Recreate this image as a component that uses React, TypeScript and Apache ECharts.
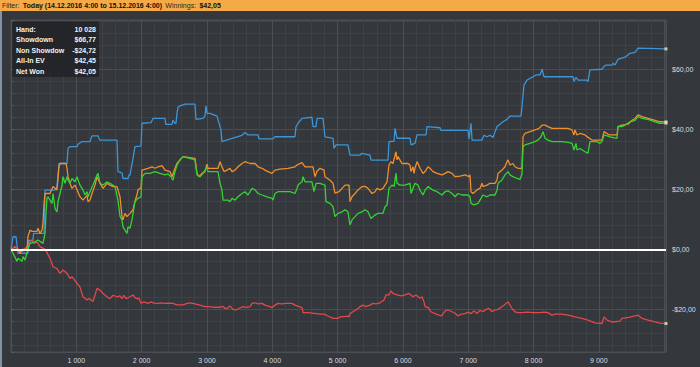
import React, { useEffect, useRef } from "react";
import * as echarts from "echarts";

const HAND_COUNT = 10028;
const Y_MIN = -34.2;
const Y_MAX = 76.4;

// [hand, dollars]
const showdown: [number, number][] = [
  [0, 0], [31, 4.2], [77, 4.2], [107, -1.3], [260, -1.3], [270, 3], [337, 3], [345, 5.3], [505, 5.3], [521, 19.7],
  [674, 19.7], [704, 20.9], [735, 28.6], [857, 28.6], [873, 33.7], [903, 34.2], [1010, 34.2], [1026, 35], [1087, 35.9],
  [1209, 35.9], [1240, 37.8], [1332, 37.8], [1347, 37], [1363, 36.4], [1623, 36.4], [1638, 25.9], [1699, 25.5],
  [1715, 23.6], [1791, 23.6], [1806, 24.7], [1822, 24.7], [1868, 30.3], [1898, 34.2], [1990, 34.4], [2006, 42],
  [2143, 42.2], [2174, 43.6], [2358, 43.6], [2370, 41.6], [2465, 41.6], [2480, 43], [2511, 42], [2526, 42],
  [2541, 45.3], [2557, 47.3], [2587, 47.8], [2664, 48.4], [2817, 48.4], [2832, 43.3], [2940, 43.6], [2970, 44.5],
  [2985, 47.8], [3001, 45.3], [3047, 45.3], [3154, 44.4], [3215, 39.8], [3230, 35.9], [3276, 36.2], [3384, 37],
  [3537, 38], [3583, 38.9], [3629, 38.1], [3782, 38.1], [3797, 36.8], [4011, 36.8], [4042, 37.5], [4348, 37.5],
  [4363, 40.9], [4394, 42], [4455, 43.6], [4608, 44], [4624, 40.9], [4670, 40.9], [4685, 43.6], [4777, 43.6],
  [4807, 37.5], [4930, 37], [4945, 33.6], [4976, 34.8], [5159, 34.8], [5190, 31.4], [5343, 31.4], [5374, 32],
  [5496, 31.4], [5512, 29.7], [5772, 29.7], [5787, 35.9], [5864, 36], [5879, 40.3], [5910, 37], [6109, 37],
  [6124, 34.8], [6185, 35.3], [6216, 38.1], [6354, 38.1], [6369, 40.9], [6568, 40.5], [6584, 39.6], [6997, 39.6],
  [7012, 36.8], [7043, 42], [7058, 36.4], [7211, 36.4], [7241, 38], [7288, 37.5], [7333, 38], [7380, 37.3],
  [7441, 40.9], [7487, 41.7], [7533, 42.5], [7594, 43.3], [7640, 44.4], [7808, 44.4], [7823, 47.5], [7854, 54.8],
  [7900, 56.4], [7977, 57.3], [8038, 58.1], [8099, 58.1], [8130, 60], [8160, 57.5], [8604, 57.5], [8620, 55.9],
  [8650, 57.3], [8681, 56.4], [8818, 56.4], [8834, 55.9], [8864, 59.8], [9048, 60], [9079, 60.9], [9110, 61.4],
  [9201, 61.4], [9216, 62], [9247, 61.4], [9293, 63.3], [9400, 64], [9477, 65.3], [9554, 65.6], [9599, 67],
  [10028, 66.77],
];

const allInEV: [number, number][] = [
  [0, 0], [61, 0], [107, 0], [138, -1.3], [168, 0], [245, 0], [260, 4.2], [291, 6.4], [322, 6], [398, 6], [414, 7],
  [444, 5.3], [475, 6.4], [490, 9], [505, 15], [521, 18.6], [597, 18.6], [643, 20.9], [704, 19.8], [735, 27.5],
  [750, 28.6], [842, 28.6], [857, 27], [873, 24.2], [903, 22], [934, 20.3], [980, 21.4], [1056, 17.5], [1102, 16.4],
  [1164, 18], [1179, 15.9], [1209, 16.4], [1240, 18.6], [1286, 21.4], [1317, 24.2], [1363, 22], [1409, 20.3],
  [1470, 22], [1516, 21.4], [1562, 20.9], [1623, 20.9], [1638, 19.8], [1669, 17.5], [1699, 10.9], [1715, 9.8],
  [1745, 12], [1776, 10.9], [1822, 12], [1868, 13.2], [1898, 16], [1929, 18.1], [1944, 19.8], [1990, 20.5],
  [2006, 26.4], [2097, 27], [2159, 27.5], [2205, 27], [2251, 27.5], [2312, 27.9], [2358, 26.4], [2434, 25.9],
  [2465, 24.2], [2511, 27], [2541, 28.6], [2587, 29.8], [2633, 30.9], [2817, 30.3], [2848, 25.3], [2878, 24.2],
  [2924, 25.3], [2970, 25.9], [3001, 28.4], [3016, 27], [3169, 27], [3200, 29.2], [3230, 27.5], [3261, 25.9],
  [3307, 26.4], [3353, 27], [3384, 25.9], [3429, 26.4], [3476, 27.5], [3537, 28.6], [3583, 29.2], [3659, 28.6],
  [3736, 28.6], [3782, 27.5], [3843, 27], [3889, 26.4], [3935, 25.9], [3996, 25.3], [4042, 26.4], [4118, 26.7],
  [4241, 27], [4348, 27.5], [4379, 28.1], [4455, 28.9], [4501, 27.5], [4624, 27.5], [4654, 24.2], [4685, 26],
  [4731, 27], [4792, 26.4], [4807, 24.2], [4884, 23], [4930, 22], [4960, 18.7], [5022, 19.2], [5068, 20.3],
  [5114, 21.4], [5175, 21.4], [5190, 15.9], [5221, 17.5], [5267, 18.6], [5313, 19.8], [5374, 20.9], [5420, 21],
  [5466, 20.3], [5527, 18.6], [5573, 19.2], [5604, 20.3], [5650, 19.8], [5695, 20.3], [5726, 21.4], [5757, 22.5],
  [5787, 28.1], [5818, 29.2], [5848, 28.6], [5894, 32.5], [5910, 29.8], [5925, 30.9], [5986, 28.6], [6078, 28.6],
  [6109, 28], [6124, 25.9], [6155, 27.5], [6170, 25.3], [6185, 27], [6216, 29.2], [6231, 28.6], [6262, 27],
  [6308, 25.3], [6339, 25.9], [6384, 27.5], [6415, 27], [6461, 25.9], [6522, 25.3], [6599, 24.8], [6645, 25.3],
  [6691, 25.9], [6752, 25.3], [6798, 24.2], [6875, 24.4], [6951, 24.8], [7012, 24.2], [7027, 24.8], [7043, 19.2],
  [7073, 18.6], [7134, 19.8], [7180, 20.3], [7211, 22], [7226, 20.9], [7288, 21.4], [7333, 22], [7410, 22],
  [7441, 23.1], [7456, 25.3], [7517, 26.4], [7563, 27.5], [7594, 29.2], [7609, 29.8], [7640, 28.1], [7686, 28.6],
  [7716, 27.5], [7762, 27], [7823, 27], [7839, 37.5], [7869, 38.6], [7946, 39.2], [8022, 39.8], [8068, 40.1],
  [8099, 40.6], [8130, 41.4], [8176, 41.4], [8221, 40.9], [8283, 40.3], [8528, 40.3], [8589, 39.8], [8620, 38.1],
  [8635, 39.8], [8665, 38.1], [8711, 38.6], [8788, 38.1], [8834, 37.3], [8895, 36.4], [9048, 36.4], [9079, 39.2],
  [9125, 38.6], [9155, 38.1], [9278, 38.1], [9293, 40.9], [9354, 41.4], [9446, 41.7], [9507, 43], [9554, 43.6],
  [9599, 44.8], [9661, 44.2], [9753, 43.6], [9860, 43], [9936, 42.5], [10028, 42.45],
];

const netWon: [number, number][] = [
  [0, 0], [31, -1.3], [92, -4], [107, -3], [168, -4], [184, -2.4], [214, -3.6], [260, 0], [291, 2], [367, 2.5],
  [414, 3.1], [490, 2], [521, 5.3], [536, 12], [551, 17], [566, 17.5], [597, 16.4], [628, 15.3], [643, 18.6],
  [674, 13.6], [704, 12.5], [720, 15.9], [750, 18.6], [781, 21.4], [796, 24.2], [827, 22], [857, 24.2], [873, 23.1],
  [903, 22], [934, 23.6], [980, 22.5], [1010, 24.2], [1056, 21.4], [1102, 19.8], [1133, 18.1], [1164, 19.2],
  [1179, 17.5], [1209, 19.2], [1255, 21.4], [1317, 24.8], [1332, 25.3], [1363, 22], [1409, 21.4], [1470, 22.5],
  [1516, 22], [1592, 20.9], [1638, 16.4], [1669, 11], [1699, 9.8], [1715, 7.5], [1745, 6.4], [1776, 5.3],
  [1791, 7.5], [1822, 7], [1852, 9.8], [1868, 12], [1898, 15.9], [1944, 17], [1990, 17.5], [2006, 24.2],
  [2052, 25.3], [2128, 25.3], [2205, 25.9], [2281, 25.3], [2358, 24.8], [2404, 25.1], [2450, 24.2], [2480, 23],
  [2511, 25.9], [2541, 28], [2587, 29.8], [2633, 30.9], [2817, 29.8], [2848, 24.8], [2894, 24.2], [2940, 25.3],
  [3001, 27.5], [3016, 25.9], [3169, 25.9], [3200, 22], [3230, 19.8], [3246, 16.4], [3322, 16.4], [3353, 15.9],
  [3384, 17], [3429, 16.4], [3476, 17.5], [3537, 18.6], [3583, 19.2], [3629, 18.1], [3690, 20.3], [3736, 19.8],
  [3782, 18.6], [3843, 18.1], [3920, 17.5], [3996, 17], [4011, 16.4], [4042, 18.6], [4087, 19.2], [4271, 19.2],
  [4348, 18.6], [4379, 20.3], [4394, 21.4], [4455, 22.5], [4471, 24.2], [4501, 22.5], [4608, 22.5], [4639, 19.2],
  [4670, 22], [4731, 22], [4807, 21.4], [4822, 15.9], [4884, 15.3], [4930, 14.2], [4960, 10.9], [5006, 12],
  [5068, 12.5], [5114, 13.2], [5159, 12.5], [5190, 8.1], [5221, 9.8], [5267, 10.9], [5313, 12], [5374, 12.5],
  [5420, 13.2], [5466, 12.5], [5512, 10.3], [5573, 11.4], [5619, 12], [5695, 12], [5726, 14.2], [5757, 14.8],
  [5787, 20.3], [5833, 21.4], [5864, 20.9], [5894, 25.3], [5910, 22], [5956, 21.4], [6032, 21.4], [6109, 22],
  [6124, 18.6], [6185, 22], [6231, 21.4], [6262, 19.7], [6308, 18.1], [6339, 19.7], [6384, 20.9], [6461, 19.7],
  [6522, 19.2], [6599, 18.1], [6645, 19.2], [6691, 19.5], [6752, 18.6], [6798, 17.5], [6844, 18.6], [6905, 18.1],
  [6997, 18.1], [7027, 17.5], [7043, 15.3], [7089, 14.8], [7150, 15.3], [7180, 16.4], [7226, 18.1], [7288, 17.5],
  [7333, 18.1], [7410, 18.1], [7441, 19.7], [7456, 22], [7517, 23.1], [7563, 24.8], [7609, 25.9], [7640, 24.8],
  [7686, 24.2], [7747, 23.6], [7793, 23.3], [7823, 25], [7839, 34.2], [7869, 34.8], [7946, 35.3], [8022, 35.9],
  [8068, 36.4], [8114, 37.5], [8145, 39.2], [8176, 37], [8221, 36.4], [8283, 35.9], [8436, 35.9], [8528, 35.6],
  [8589, 35.3], [8620, 33.1], [8650, 35.3], [8665, 33.1], [8711, 33.6], [8788, 32.5], [8834, 32], [8864, 35.9],
  [8972, 35.9], [9018, 35.3], [9048, 35.9], [9079, 38.1], [9170, 37.5], [9278, 37], [9293, 40.9], [9354, 40.9],
  [9400, 41.4], [9477, 42.5], [9554, 43], [9599, 44.2], [9661, 43.6], [9753, 43.3], [9860, 42.5], [9936, 42],
  [10028, 42.05],
];

const nonShowdown: [number, number][] = [
  [0, 0], [61, 0.9], [168, -0.8], [245, 0.9], [291, 2.5], [322, 3.1], [352, 2], [398, 2.5], [444, 0.9], [521, 0],
  [551, -1.1], [597, -3], [643, -5.8], [704, -6.4], [750, -8], [796, -6.9], [857, -8], [903, -9.7], [934, -9.1],
  [1010, -11.3], [1056, -12.6], [1102, -15.8], [1164, -16.9], [1194, -16.4], [1255, -17.4], [1271, -16.3],
  [1317, -13], [1363, -13.6], [1409, -14.7], [1470, -15.8], [1516, -16.4], [1562, -15.3], [1623, -15.8],
  [1669, -15.5], [1699, -16.4], [1730, -15.3], [1760, -16.4], [1822, -15.8], [1868, -15.2], [1914, -16.4],
  [1960, -16.3], [1990, -18], [2036, -17.5], [2097, -18], [2143, -17.5], [2190, -17.9], [2250, -18], [2300, -17.8],
  [2350, -18], [2420, -17.9], [2480, -18], [2541, -18.5], [2633, -18.5], [2700, -18], [2750, -17.8], [2817, -18.2],
  [2878, -18.5], [2970, -19.1], [3030, -19.1], [3120, -19.3], [3200, -19.3], [3246, -19], [3276, -19.7],
  [3307, -19.7], [3353, -18.9], [3400, -20], [3445, -20.2], [3490, -19.7], [3550, -19.1], [3600, -19.3],
  [3660, -19.1], [3690, -18], [3736, -17.8], [3782, -18.2], [3843, -18], [3889, -18.6], [3950, -19], [3996, -19.4],
  [4042, -18.6], [4087, -18], [4150, -18.2], [4210, -18], [4302, -18], [4348, -18.6], [4400, -19], [4455, -19.4],
  [4471, -21.1], [4550, -21.1], [4640, -21.3], [4731, -21.6], [4807, -21.6], [4850, -22.2], [4930, -23],
  [5000, -23], [5052, -22.4], [5114, -22.4], [5159, -22.2], [5175, -22.6], [5190, -21.4], [5236, -20.8],
  [5282, -20.2], [5343, -19.1], [5389, -18.6], [5435, -19.1], [5496, -18.6], [5542, -18], [5588, -18.2],
  [5650, -17.8], [5711, -16.9], [5741, -15.2], [5787, -15.2], [5818, -13.8], [5848, -14.7], [5910, -15.2],
  [5970, -15.5], [6032, -15.2], [6093, -14.7], [6155, -15.8], [6200, -15.2], [6262, -16.3], [6293, -15.8],
  [6323, -17.5], [6339, -19.1], [6384, -19.3], [6430, -20.8], [6491, -21.4], [6553, -21.9], [6599, -22.2],
  [6614, -21.4], [6660, -20.3], [6691, -20.2], [6752, -20.8], [6798, -21.3], [6844, -22.2], [6890, -21.6],
  [6951, -21.4], [6997, -20.9], [7043, -21.4], [7089, -20.5], [7134, -21.4], [7180, -20.3], [7226, -20.8],
  [7272, -20], [7318, -19.7], [7364, -20.8], [7410, -20.2], [7456, -20], [7502, -19.3], [7548, -18.6],
  [7609, -17.5], [7640, -18.6], [7670, -19.7], [7716, -20.8], [7762, -21.1], [7823, -21.1], [7900, -20.9],
  [8000, -21.1], [8099, -21.1], [8160, -20.9], [8221, -21.1], [8283, -21.9], [8330, -21.6], [8430, -21.6],
  [8528, -21.9], [8635, -22.5], [8742, -23], [8834, -23.6], [8941, -24.5], [9048, -24.7], [9079, -22.5],
  [9125, -23.6], [9201, -24.2], [9324, -23.9], [9354, -23], [9477, -22.6], [9554, -22.2], [9599, -21.9],
  [9661, -23], [9753, -23.6], [9860, -24.2], [9936, -24.6], [10028, -24.72],
];

const tableLabels = ["Hand:", "Showdown", "Non Showdown", "All-In EV", "Net Won"];
const filterText = "Today (14.12.2016 4:00 to 15.12.2016 4:00)";

const COLORS = {
  showdown: "#3d95d6",
  nonShowdown: "#e2484b",
  allInEV: "#ef8f2d",
  netWon: "#35d235",
};

const FONT = "'Liberation Sans', Arial, sans-serif";

const money = (v: number) =>
  (v < 0 ? "-" : "") + "$" + Math.abs(v).toFixed(2).replace(".", ",");
const thousands = (v: number) =>
  String(Math.round(v)).replace(/\B(?=(\d{3})+(?!\d))/g, " ");
const last = (s: [number, number][]) => s[s.length - 1];

export default function App() {
  const ref = useRef<HTMLDivElement>(null);

  useEffect(() => {
    if (!ref.current) return;
    const chart = echarts.init(ref.current, null, { renderer: "svg" });

    const tableValues = [
      thousands(HAND_COUNT),
      money(last(showdown)[1]),
      money(last(nonShowdown)[1]),
      money(last(allInEV)[1]),
      money(last(netWon)[1]),
    ];

    const line = (name: string, data: [number, number][], color: string, extra: any = {}) => ({
      type: "line",
      name,
      data,
      showSymbol: false,
      symbol: "none",
      silent: true,
      lineStyle: { color, width: 1.3 },
      itemStyle: { color },
      ...extra,
    });

    const tableGraphics: any[] = [];
    tableLabels.forEach((lab, i) => {
      const y = 29.5 + i * 10.4;
      tableGraphics.push({
        type: "text",
        x: 16,
        y,
        z: 101,
        style: {
          text: lab,
          width: 50,
          overflow: "truncate",
          ellipsis: "",
          fill: "#f2f2f2",
          font: `bold 7px ${FONT}`,
          verticalAlign: "middle",
          align: "left",
        },
      });
      tableGraphics.push({
        type: "text",
        x: 96,
        y,
        z: 101,
        style: {
          text: tableValues[i],
          fill: "#f2f2f2",
          font: `bold 7px ${FONT}`,
          verticalAlign: "middle",
          align: "right",
        },
      });
    });

    const option: any = {
      animation: false,
      backgroundColor: "#34373b",
      grid: {
        left: 11,
        right: 34,
        top: 20,
        bottom: 15,
        show: true,
        borderColor: "#4b4e52",
        borderWidth: 1,
        outerBoundsMode: "none",
      },
      xAxis: {
        type: "value",
        min: 0,
        max: HAND_COUNT,
        minInterval: 1000,
        maxInterval: 1000,
        splitNumber: 10,
        axisLine: { show: false },
        axisTick: { show: false },
        minorTick: { show: false, splitNumber: 5 },
        axisLabel: {
          color: "#dcdce4",
          fontSize: 7,
          fontFamily: FONT,
          margin: 5,
          showMinLabel: false,
          showMaxLabel: false,
          // labels only for full thousands that leave room before the last hand
          formatter: (v: number) => (v + 1000 > HAND_COUNT ? "" : thousands(v)),
        },
        splitLine: { show: true, lineStyle: { color: "#4b4e52", width: 1 } },
        minorSplitLine: { show: true, lineStyle: { color: "#3e4145", width: 1 } },
      },
      yAxis: {
        type: "value",
        position: "right",
        min: Y_MIN,
        max: Y_MAX,
        minInterval: 20,
        maxInterval: 20,
        splitNumber: 5,
        axisLine: { show: false },
        axisTick: { show: true, length: 3, lineStyle: { color: "#5a5d62" } },
        minorTick: { show: true, splitNumber: 5, length: 3, lineStyle: { color: "#4e5156" } },
        axisLabel: {
          color: "#dcdce4",
          fontSize: 7,
          fontFamily: FONT,
          margin: 6,
          showMinLabel: false,
          showMaxLabel: false,
          formatter: (v: number) => money(v),
        },
        splitLine: { show: true, lineStyle: { color: "#4b4e52", width: 1 } },
        minorSplitLine: { show: true, lineStyle: { color: "#3e4145", width: 1 } },
      },
      series: [
        line("Showdown", showdown, COLORS.showdown),
        line("Non Showdown", nonShowdown, COLORS.nonShowdown, {
          markLine: {
            silent: true,
            symbol: ["none", "none"],
            label: { show: false },
            lineStyle: { color: "#ffffff", width: 2, type: "solid" },
            emphasis: { disabled: true },
            data: [{ yAxis: 0 }],
          },
        }),
        line("All-In EV", allInEV, COLORS.allInEV),
        line("Net Won", netWon, COLORS.netWon),
        {
          type: "scatter",
          silent: true,
          symbol: "rect",
          symbolSize: 3,
          z: 10,
          itemStyle: { color: "#f4e4aa" },
          data: [last(showdown), last(nonShowdown), last(allInEV), last(netWon)],
        },
      ],
      graphic: [
        {
          type: "rect",
          z: 100,
          shape: { x: 0, y: 0, width: 700, height: 11 },
          style: { fill: "#f5aa45" },
        },
        {
          type: "text",
          x: 2,
          y: 5.8,
          z: 101,
          style: {
            text: `{n|Filter:} {b|${filterText}} {n|Winnings:} {b|${money(last(netWon)[1])}}`,
            verticalAlign: "middle",
            rich: {
              n: { fontSize: 7, fontFamily: FONT, fontWeight: "normal", fill: "#2a2a2a" },
              b: { fontSize: 7, fontFamily: FONT, fontWeight: "bold", fill: "#111111" },
            },
          },
        },
        {
          type: "rect",
          z: 100,
          shape: { x: 0, y: 11, width: 2, height: 356 },
          style: { fill: "#8193a6" },
        },
        {
          type: "rect",
          z: 100,
          shape: { x: 12.5, y: 21.5, width: 86.5, height: 55.5 },
          style: { fill: "rgba(34,36,39,0.92)" },
        },
        ...tableGraphics,
      ],
    };

    chart.setOption(option);
    return () => chart.dispose();
  }, []);

  return (
    <div
      ref={ref}
      style={{ position: "fixed", left: 0, top: 0, width: 700, height: 367 }}
    />
  );
}
